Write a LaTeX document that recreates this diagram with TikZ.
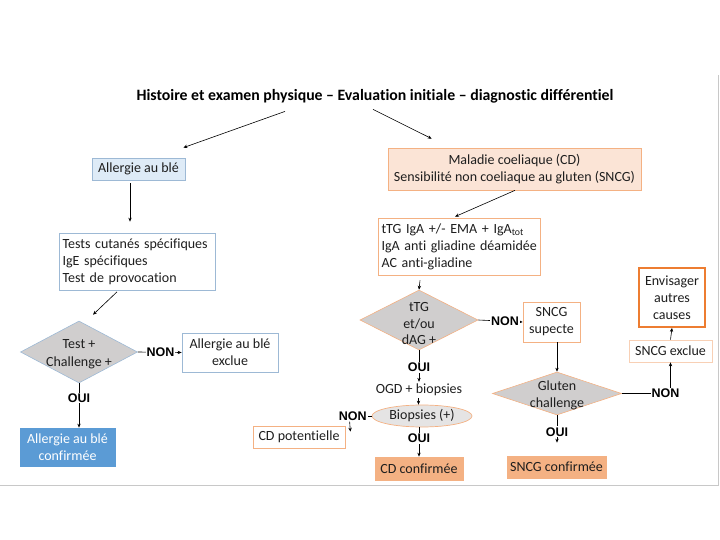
\documentclass[tikz,border=0pt]{standalone}
\usepackage{fontspec}
\setmainfont{Carlito}[Ligatures=CommonOff]
\newfontfamily\arialfont{Liberation Sans}
\usetikzlibrary{shapes.geometric,arrows.meta}

\definecolor{bluefill}{HTML}{DEEBF7}
\definecolor{blueline}{HTML}{9DB9D5}
\definecolor{bluedark}{HTML}{5B9BD5}
\definecolor{peachfill}{HTML}{FBE4D6}
\definecolor{peachline}{HTML}{F4B183}
\definecolor{salmon}{HTML}{F4B183}
\definecolor{orangeline}{HTML}{ED7D31}
\definecolor{diamfill}{HTML}{D0CECE}
\definecolor{txt}{HTML}{1E1E1E}
\definecolor{framegray}{HTML}{C8C8C8}

\begin{document}
\begin{tikzpicture}[
  x=1pt, y=-1pt,
  font=\fontsize{14}{17}\selectfont, text=txt,
  box/.style={draw, line width=0.7pt, inner sep=3pt, align=center, fill=white},
  allbox/.style={box, draw=blueline},
  cdbox/.style={box, draw=peachline},
  choice/.style={diamond, draw, line width=0.6pt, fill=diamfill, inner sep=0pt},
  arr/.style={-{Stealth[length=4pt,width=3.4pt]}, line width=0.6pt, black},
  link/.style={line width=0.6pt, black},
  yn/.style={font=\arialfont\bfseries\fontsize{12.5}{13}\selectfont, text=black, fill=white, inner sep=1pt}
]

% frame of the slide
\useasboundingbox (0,0) rectangle (720,540);
\draw[framegray, line width=0.8pt] (0,485) -- (718,485) -- (718,75);

% Column positions (x)
\def\xAll{138.5}
\def\xCD{419}
\def\xSN{557}

% Title
\node[font=\bfseries\fontsize{15.8}{18}\selectfont, text=black] (title) at (375,96)
  {Histoire et examen physique -- Evaluation initiale -- diagnostic différentiel};

% Left branch: allergie au blé
\node[allbox, fill=bluefill, minimum width=93pt, minimum height=22pt] (allergie) at (\xAll,169) {Allergie au blé};
\node[allbox, text width=150pt, align=left, minimum height=57pt] (tests) at (137.5,261.5)
  {Tests cutanés spécifiques\\IgE spécifiques\\Test de provocation};
\node[choice, draw=blueline, minimum width=117pt, minimum height=62pt,
  label={[align=center, yshift=-2pt, font=\fontsize{14}{18}\selectfont]center:Test +\\Challenge +}] (testch) at (79,352) {};
\node[allbox, minimum width=96pt, minimum height=39pt] (allexcl) at (230,352.5)
  {Allergie au blé\\exclue};
\node[box, draw=bluedark, fill=bluedark, text=white, minimum width=95pt, minimum height=38pt] (allconf) at (67.5,447)
  {Allergie au blé\\confirmée};

% Right branch: CD / SNCG
\node[cdbox, fill=peachfill, minimum width=253pt, minimum height=42pt] (maladie) at (514.5,169)
  {Maladie coeliaque (CD)\\Sensibilité non coeliaque au gluten (SNCG)};
\node[cdbox, text width=156pt, align=left, minimum height=57pt] (serol) at (459.5,246.5)
  {tTG IgA +/- EMA + IgA\textsubscript{tot}\\IgA anti gliadine déamidée\\AC anti-gliadine};
\node[choice, draw=peachline, minimum width=118pt, minimum height=60pt,
  label={[align=center, yshift=-4pt, font=\fontsize{14}{16.5}\selectfont]center:tTG\\et/ou\\dAG +}] (ttg) at (\xCD,320) {};
\node[cdbox, minimum width=57pt, minimum height=40pt] (sncgsup) at (551.5,322) {SNCG\\supecte};
\node[choice, draw=peachline, minimum width=129pt, minimum height=43pt,
  label={[align=center, yshift=-2pt, font=\fontsize{14}{17}\selectfont]center:Gluten\\challenge}] (gluten) at (\xSN,393.5) {};
\node[cdbox, draw=peachline!60, minimum width=83pt, minimum height=22pt] (sncgexcl) at (670.5,351) {SNCG exclue};
\node[box, draw=orangeline, line width=1.8pt, minimum width=66pt, minimum height=59pt] (autres) at (672,297.5)
  {Envisager\\autres\\causes};
\node[inner sep=2pt] (ogd) at (\xCD,390) {OGD + biopsies};
\node[ellipse, draw=peachline, line width=0.7pt, fill=diamfill!55, minimum width=100pt, minimum height=22pt, inner sep=0pt] (biop) at (422,416) {Biopsies (+)};
\node[cdbox, minimum width=92pt, minimum height=22pt] (cdpot) at (299,437) {CD potentielle};
\node[box, draw=salmon, fill=salmon, minimum width=88pt, minimum height=23pt] (cdconf) at (\xCD,468.5) {CD confirmée};
\node[box, draw=salmon, fill=salmon, minimum width=99pt, minimum height=22pt] (sncgconf) at (556.5,467) {SNCG confirmée};

% Arrows from title
\draw[arr] ([xshift=-90pt,yshift=-5pt]title.south) -- ([xshift=-2pt,yshift=10pt]allergie.north east);
\draw[arr] ([xshift=-2pt,yshift=-3pt]title.south) -- ([xshift=44pt,yshift=9pt]maladie.north west);

% Left branch connectors
\draw[arr] ([xshift=-8.5pt,yshift=-3pt]allergie.south) -- ([xshift=-7.5pt,yshift=11pt]tests.north);
\draw[arr] ([xshift=-20.5pt,yshift=-1.5pt]tests.south) -- ([xshift=14pt,yshift=6pt]testch.north);
\draw[arr] (testch.east) -- node[yn, pos=0.52] {NON} (allexcl.west);
\draw[arr] (testch.south) -- node[yn, pos=0.33] {OUI} (allconf.north -| testch.south);

% Right branch connectors
\draw[arr] ([xshift=0.5pt]maladie.south) -- ([xshift=-4.5pt,yshift=1pt]serol.north);
\draw[arr] ([xshift=-39.5pt,yshift=-5pt]serol.south) -- (ttg.north);
\draw[arr] (ttg.east) -- node[yn, pos=0.6] {NON} (sncgsup.west);
\draw[arr] (sncgsup.south -| gluten.north) -- (gluten.north);
\draw[link] (gluten.east) -- (gluten.east -| sncgexcl.south) node[yn, xshift=-5pt] (nonsn) {NON};
\draw[arr] ([yshift=6pt]gluten.east -| sncgexcl.south) -- (sncgexcl.south);
\draw[arr] (sncgexcl.north) -- (autres.south);
\draw[arr] (ttg.south) -- node[yn, pos=0.55] {OUI} (ogd.north);
\draw[arr] ([xshift=-0.5pt]ogd.south) -- ([xshift=-3.5pt]biop.north);
\draw[link] (biop.west) -- ([xshift=-19pt]biop.west) node[yn] (nonbio) {NON};
\draw[arr] ([xshift=-3pt]nonbio.south) -- ([xshift=5pt,yshift=-6pt]cdpot.north east);
\draw[arr] ([xshift=-3pt]biop.south) -- node[yn, pos=0.38] {OUI} (cdconf.north);
\draw[arr] (gluten.south) -- node[yn, pos=0.6] {OUI} ([yshift=13pt]sncgconf.north -| gluten.south);

\end{tikzpicture}
\end{document}
